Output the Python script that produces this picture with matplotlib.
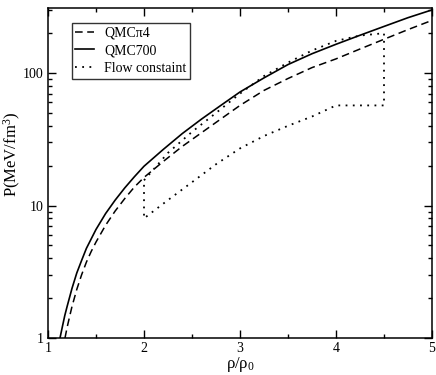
import matplotlib
matplotlib.use("Agg")
import matplotlib.pyplot as plt
from matplotlib.ticker import LogLocator, FixedLocator, NullFormatter, MultipleLocator

plt.rcParams['font.family'] = ['Liberation Serif', 'DejaVu Serif']
plt.rcParams['mathtext.fontset'] = 'custom'
plt.rcParams['mathtext.rm'] = 'Liberation Serif'
plt.rcParams['mathtext.it'] = 'Liberation Serif:italic'

# QMC700 (solid)
x_qmc700 = [1.125, 1.15, 1.175, 1.2, 1.25, 1.3, 1.35, 1.4, 1.45, 1.5, 1.6, 1.7, 1.8, 1.9, 2.0,
            2.2, 2.4, 2.6, 2.8, 3.0, 3.25, 3.5, 3.75, 4.0, 4.25, 4.5, 4.75, 5.0]
p_qmc700 = [1.0, 1.22, 1.48, 1.74, 2.37, 3.1, 3.85, 4.75, 5.6, 6.6, 8.7, 11.0, 13.6, 16.5, 19.8,
            26.5, 35, 45, 57, 72, 92, 116, 140, 165, 193, 225, 262, 300]

# QMCpi4 (dashed)
x_qmcpi4 = [1.177, 1.2, 1.225, 1.25, 1.3, 1.35, 1.4, 1.45, 1.5, 1.6, 1.7, 1.8, 1.9, 2.0,
            2.2, 2.4, 2.6, 2.8, 3.0, 3.25, 3.5, 3.75, 4.0, 4.25, 4.5, 4.75, 5.0]
p_qmcpi4 = [1.0, 1.21, 1.45, 1.73, 2.33, 3.0, 3.74, 4.5, 5.3, 7.1, 9.1, 11.3, 13.8, 16.3,
            21.5, 28, 35.5, 45, 57, 74, 91, 110, 128, 152, 180, 213, 250]

# Flow constraint region (dotted)
x_flow_upper = [2.0, 2.25, 2.5, 2.75, 3.0, 3.25, 3.5, 3.75, 4.0, 4.25, 4.5]
p_flow_upper = [15.5, 25, 36, 50, 70, 95, 120, 148, 175, 192, 200]
x_flow_lower = [2.0, 2.25, 2.5, 2.75, 3.0, 3.25, 3.5, 3.75, 4.0, 4.5]
p_flow_lower = [8.0, 11, 15, 20.5, 27, 33.5, 40, 47, 57, 57]

labels = ["QMC\u03c04", "QMC700", "Flow constaint"]

fig = plt.figure(figsize=(4.36, 3.75), dpi=100)
ax = fig.add_axes([48/436, 37/375, 384/436, 330/375])

ax.plot(x_qmcpi4, p_qmcpi4, color='black', lw=1.1, linestyle=(0, (5, 3)), label=labels[0])
ax.plot(x_qmc700, p_qmc700, color='black', lw=1.2, linestyle='-', label=labels[1])

# closed flow polygon: lower-left -> up -> upper curve -> down -> lower curve back
fx = x_flow_upper + x_flow_lower[::-1]
fp = p_flow_upper + p_flow_lower[::-1]
fx = fx + [fx[0]]
fp = fp + [fp[0]]
ax.plot(fx, fp, color='black', lw=1.3, linestyle=(0, (1, 3)), label=labels[2])

ax.set_yscale('log')
ax.set_xlim(1, 5)
ax.set_ylim(1, 310)

ax.xaxis.set_major_locator(MultipleLocator(1))
ax.xaxis.set_minor_locator(MultipleLocator(0.5))
ax.yaxis.set_major_locator(FixedLocator([1, 10, 100]))
ax.set_yticklabels(['1', '10', '100'])
ax.yaxis.set_minor_locator(LogLocator(base=10, subs=range(2, 10)))
ax.yaxis.set_minor_formatter(NullFormatter())

ax.tick_params(which='both', direction='in', top=True, right=True, labelsize=10, colors='black')
ax.tick_params(which='major', length=6, width=1.0, pad=3)
ax.tick_params(which='minor', length=3.2, width=1.0)
for s in ax.spines.values():
    s.set_linewidth(1.1)

ax.set_xlabel("\u03c1/\u03c1$_0$", fontsize=12, labelpad=0)
ax.set_ylabel("P(MeV/fm$^3$)", fontsize=12)
ax.yaxis.set_label_coords(-0.066, 0.555)

leg = ax.legend(loc='upper left', bbox_to_anchor=((72-48)/384, 1 - 15/330), borderaxespad=0,
                fontsize=10, frameon=True, fancybox=False, handlelength=1.3, labelspacing=0.35,
                borderpad=0.25, handletextpad=0.75)
leg.get_frame().set_edgecolor('black')
leg.get_frame().set_linewidth(1.0)

fig.savefig('out.png', dpi=100)
